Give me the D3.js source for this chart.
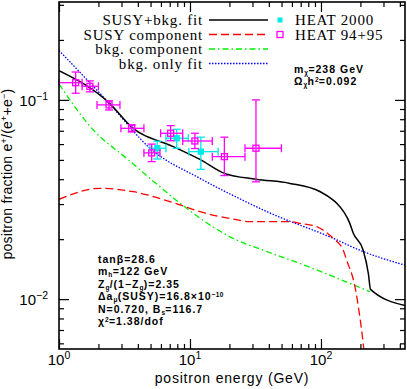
<!DOCTYPE html>
<html>
<head>
<meta charset="utf-8">
<script src="https://cdn.jsdelivr.net/npm/d3@7"></script>
<style>
  body { margin: 0; background: #fff; }
  text { font-family: "Liberation Sans", Arial, sans-serif; fill: #000; }
</style>
</head>
<body>
<div id="chart"></div>
<script>
// ---- axis ticks ----
const xMajor = [1, 10, 100];
const xMinor = [2, 3, 4, 5, 6, 7, 8, 9, 20, 30, 40, 50, 60, 70, 80, 90, 200, 300, 400];
const xExp = ["0", "1", "2"];
const yMajor = [0.01, 0.1];
const yMinor = [0.006, 0.007, 0.008, 0.009, 0.02, 0.03, 0.04, 0.05, 0.06, 0.07, 0.08, 0.09, 0.2, 0.3];
const yExp = ["\u22122", "\u22121"];

// ---- curves (energy in GeV, positron fraction) ----
const fitX  = [1, 2.42, 3.59, 7.45, 11.9, 18.3, 31.9, 58, 98, 124, 132, 166, 176.5, 210, 230, 239, 438];
const fitY  = [0.140, 0.0963, 0.073, 0.0583, 0.0503, 0.0428, 0.040, 0.0381, 0.0347, 0.0314, 0.0303, 0.024, 0.0214, 0.0176, 0.01345, 0.0112, 0.0093];
const susyX = [1, 2.06, 3.69, 8.4, 11.9, 21.4, 28.7, 58, 69, 92.5, 124, 148, 157, 182, 198, 210, 216];
const susyY = [0.0317, 0.036, 0.0346, 0.0297, 0.0275, 0.0252, 0.0245, 0.0245, 0.024, 0.0231, 0.0202, 0.0176, 0.0157, 0.0115, 0.00815, 0.0060, 0.0050];
const bkgX  = [1, 1.83, 3.28, 8.4, 11.9, 21.3, 36.3, 69, 236];
const bkgY  = [0.120, 0.0706, 0.0509, 0.0303, 0.0255, 0.0202, 0.0176, 0.0151, 0.0109];
const onlyX = [1, 2.41, 4.95, 11.9, 24.7, 38.6, 124, 198, 438];
const onlyY = [0.177, 0.0963, 0.0572, 0.0404, 0.0316, 0.0275, 0.0202, 0.0176, 0.0148];

// ---- HEAT 94+95 ----
const h95X   = [1.34, 1.72, 2.41, 3.59, 5.10, 7.12, 10.9, 18.3, 31.9];
const h95Y   = [0.122, 0.117, 0.0944, 0.072, 0.0542, 0.068, 0.0622, 0.0519, 0.0572];
const h95Xlo = [1.0, 1.5, 1.95, 2.97, 4.45, 5.97, 8.8, 14.8, 26.3];
const h95Xhi = [1.5, 2.0, 2.92, 4.45, 5.9, 8.8, 14.8, 26.3, 49.9];
const h95Ylo = [0.108, 0.1097, 0.089, 0.069, 0.049, 0.0624, 0.057, 0.0417, 0.0388];
const h95Yhi = [0.138, 0.1246, 0.099, 0.075, 0.060, 0.0743, 0.068, 0.065, 0.100];

// ---- HEAT 2000 ----
const h00X   = [5.63, 7.91, 12.1];
const h00Y   = [0.0572, 0.0642, 0.055];
const h00Xlo = [4.95, 6.55, 9.8];
const h00Xhi = [6.55, 9.7, 16.4];
const h00Ylo = [0.0505, 0.0572, 0.0448];
const h00Yhi = [0.062, 0.0712, 0.065];

const W = 407, H = 389;
const margin = {top: 2, right: 2, bottom: 40, left: 59};

const svg = d3.select("#chart").append("svg")
  .attr("width", W).attr("height", H);

const x = d3.scaleLog().domain([1, 438]).range([margin.left, W - margin.right]);
const y = d3.scaleLog().domain([0.00562, 0.31]).range([H - margin.bottom, margin.top]);

svg.append("defs").append("clipPath").attr("id", "plot")
  .append("rect")
  .attr("x", margin.left).attr("y", margin.top)
  .attr("width", W - margin.left - margin.right)
  .attr("height", H - margin.top - margin.bottom);

// ticks on all four sides, pointing inward
function ticks(axisFn, scale, values, len, transform) {
  svg.append("g")
    .attr("transform", transform)
    .call(axisFn(scale).tickValues(values).tickSize(-len).tickFormat(""))
    .call(g => g.select(".domain").remove())
    .call(g => g.selectAll(".tick line").attr("stroke", "#000").attr("stroke-width", 1.2));
}
const yBot = H - margin.bottom, yTop = margin.top, xLeft = margin.left, xRight = W - margin.right;
ticks(d3.axisBottom, x, xMajor, 10, `translate(0,${yBot})`);
ticks(d3.axisBottom, x, xMinor, 5, `translate(0,${yBot})`);
ticks(d3.axisTop, x, xMajor, 10, `translate(0,${yTop})`);
ticks(d3.axisTop, x, xMinor, 5, `translate(0,${yTop})`);
ticks(d3.axisLeft, y, yMajor, 10, `translate(${xLeft},0)`);
ticks(d3.axisLeft, y, yMinor, 5, `translate(${xLeft},0)`);
ticks(d3.axisRight, y, yMajor, 10, `translate(${xRight},0)`);
ticks(d3.axisRight, y, yMinor, 5, `translate(${xRight},0)`);

// tick labels 10^n
xMajor.forEach((v, i) => {
  const t = svg.append("text").attr("x", x(v)).attr("y", 365)
    .attr("text-anchor", "middle").style("font-size", "15px");
  t.append("tspan").text("10");
  t.append("tspan").attr("dy", -6).style("font-size", "10.5px").text(xExp[i]);
});
yMajor.forEach((v, i) => {
  const t = svg.append("text").attr("x", 48).attr("y", y(v) + 6)
    .attr("text-anchor", "end").style("font-size", "15px");
  t.append("tspan").text("10");
  t.append("tspan").attr("dy", -6).style("font-size", "10.5px").text(yExp[i]);
});

// axis titles
svg.append("text")
  .attr("x", 232).attr("y", 383)
  .attr("text-anchor", "middle")
  .style("font-size", "14px").style("letter-spacing", "0.8px")
  .text("positron energy  (GeV)");
const yl = svg.append("text")
  .attr("transform", "translate(12,174) rotate(-90)")
  .attr("text-anchor", "middle")
  .style("font-size", "14px").style("letter-spacing", "0.25px");
yl.append("tspan").text("positron fraction e");
yl.append("tspan").attr("dy", -5).style("font-size", "9px").text("+");
yl.append("tspan").attr("dy", 5).text("/(e");
yl.append("tspan").attr("dy", -5).style("font-size", "9px").text("+");
yl.append("tspan").attr("dy", 5).text("+e");
yl.append("tspan").attr("dy", -5).style("font-size", "9px").text("\u2212");
yl.append("tspan").attr("dy", 5).text(")");

// curves
const line = d3.line().x(d => x(d[0])).y(d => y(d[1])).curve(d3.curveMonotoneX);
const curves = svg.append("g").attr("clip-path", "url(#plot)");
const styles = [
  {xs: bkgX,  ys: bkgY,  color: "#00f000", dash: "6,3,1.5,3", w: 1.3},
  {xs: onlyX, ys: onlyY, color: "#0000ff", dash: "1.5,1.5", w: 1.3},
  {xs: susyX, ys: susyY, color: "#ff0000", dash: "8,4", w: 1.3},
  {xs: fitX,  ys: fitY,  color: "#000000", dash: null, w: 1.5}
];
styles.forEach(s => {
  curves.append("path")
    .attr("d", line(d3.zip(s.xs, s.ys)))
    .attr("fill", "none")
    .attr("stroke", s.color)
    .attr("stroke-width", s.w)
    .attr("stroke-dasharray", s.dash);
});

// data points with error bars
function points(xs, ys, xlo, xhi, ylo, yhi, color, filled, size) {
  const g = svg.append("g").attr("stroke", color).attr("stroke-width", 1.3);
  const cap = 4;
  xs.forEach((v, i) => {
    const px = x(v), py = y(ys[i]);
    g.append("line").attr("x1", x(xlo[i])).attr("x2", x(xhi[i])).attr("y1", py).attr("y2", py);
    g.append("line").attr("x1", x(xlo[i])).attr("x2", x(xlo[i])).attr("y1", py - cap).attr("y2", py + cap);
    g.append("line").attr("x1", x(xhi[i])).attr("x2", x(xhi[i])).attr("y1", py - cap).attr("y2", py + cap);
    g.append("line").attr("x1", px).attr("x2", px).attr("y1", y(ylo[i])).attr("y2", y(yhi[i]));
    g.append("line").attr("x1", px - cap).attr("x2", px + cap).attr("y1", y(ylo[i])).attr("y2", y(ylo[i]));
    g.append("line").attr("x1", px - cap).attr("x2", px + cap).attr("y1", y(yhi[i])).attr("y2", y(yhi[i]));
    g.append("rect").attr("x", px - size / 2).attr("y", py - size / 2)
      .attr("width", size).attr("height", size)
      .attr("fill", filled ? color : "none");
  });
}
points(h00X, h00Y, h00Xlo, h00Xhi, h00Ylo, h00Yhi, "#00e8e8", true, 5);
points(h95X, h95Y, h95Xlo, h95Xhi, h95Ylo, h95Yhi, "#ff00ff", false, 6);

// frame
svg.append("rect")
  .attr("x", xLeft).attr("y", yTop)
  .attr("width", xRight - xLeft).attr("height", yBot - yTop)
  .attr("fill", "none").attr("stroke", "#000").attr("stroke-width", 1.6);

// legend
const legendNames = ["SUSY+bkg. fit", "SUSY component", "bkg. component", "bkg. only fit"];
const legendRows = [20, 34.5, 49, 63.5];
[3, 2, 0, 1].forEach((k, i) => {
  const s = styles[k];
  svg.append("text")
    .attr("x", 203).attr("y", legendRows[i] + 5)
    .attr("text-anchor", "end")
    .style("font-family", "'Liberation Serif', serif")
    .style("font-size", "15px").style("letter-spacing", "0.8px")
    .text(legendNames[i]);
  svg.append("line")
    .attr("x1", 209).attr("x2", 268)
    .attr("y1", legendRows[i]).attr("y2", legendRows[i])
    .attr("stroke", s.color).attr("stroke-width", s.w)
    .attr("stroke-dasharray", s.dash);
});
svg.append("rect").attr("x", 277.5).attr("y", 17.5).attr("width", 5).attr("height", 5)
  .attr("fill", "#00e8e8");
svg.append("rect").attr("x", 277).attr("y", 31.5).attr("width", 6).attr("height", 6)
  .attr("fill", "none").attr("stroke", "#ff00ff").attr("stroke-width", 1.3);
["HEAT 2000", "HEAT 94+95"].forEach((t, i) => {
  svg.append("text")
    .attr("x", 295).attr("y", legendRows[i] + 5)
    .style("font-family", "'Liberation Serif', serif")
    .style("font-size", "15px").style("letter-spacing", "0.8px")
    .text(t);
});

// annotations
function note(x0, y0, parts) {
  const t = svg.append("text").attr("x", x0).attr("y", y0)
    .style("font-size", "10.5px").style("font-weight", "bold").style("letter-spacing", "1px");
  let shift = 0;
  parts.forEach(p => {
    const want = p[1] === "sub" ? 2 : p[1] === "sup" ? -3 : 0;
    t.append("tspan").attr("dy", want - shift)
      .style("font-size", p[1] ? "6.5px" : null)
      .style("letter-spacing", p[1] ? "0.3px" : null)
      .text(p[0]);
    shift = want;
  });
}
note(294, 72.5, [["m"], ["\u03c7", "sub"], ["=238 GeV"]]);
note(294, 85, [["\u03a9"], ["\u03c7", "sub"], ["h"], ["2", "sup"], ["=0.092"]]);

const notes = [
  [["tan\u03b2=28.6"]],
  [["m"], ["h", "sub"], ["=122 GeV"]],
  [["Z"], ["g", "sub"], ["/(1\u2212Z"], ["g", "sub"], [")=2.35"]],
  [["\u0394a"], ["\u03bc", "sub"], ["(SUSY)=16.8\u00d710"], ["\u221210", "sup"]],
  [["N=0.720, B"], ["s", "sub"], ["=116.7"]],
  [["\u03c7"], ["2", "sup"], ["=1.38/dof"]]
];
notes.forEach((n, i) => note(98, 263 + i * 12.4, n));
</script>
</body>
</html>
